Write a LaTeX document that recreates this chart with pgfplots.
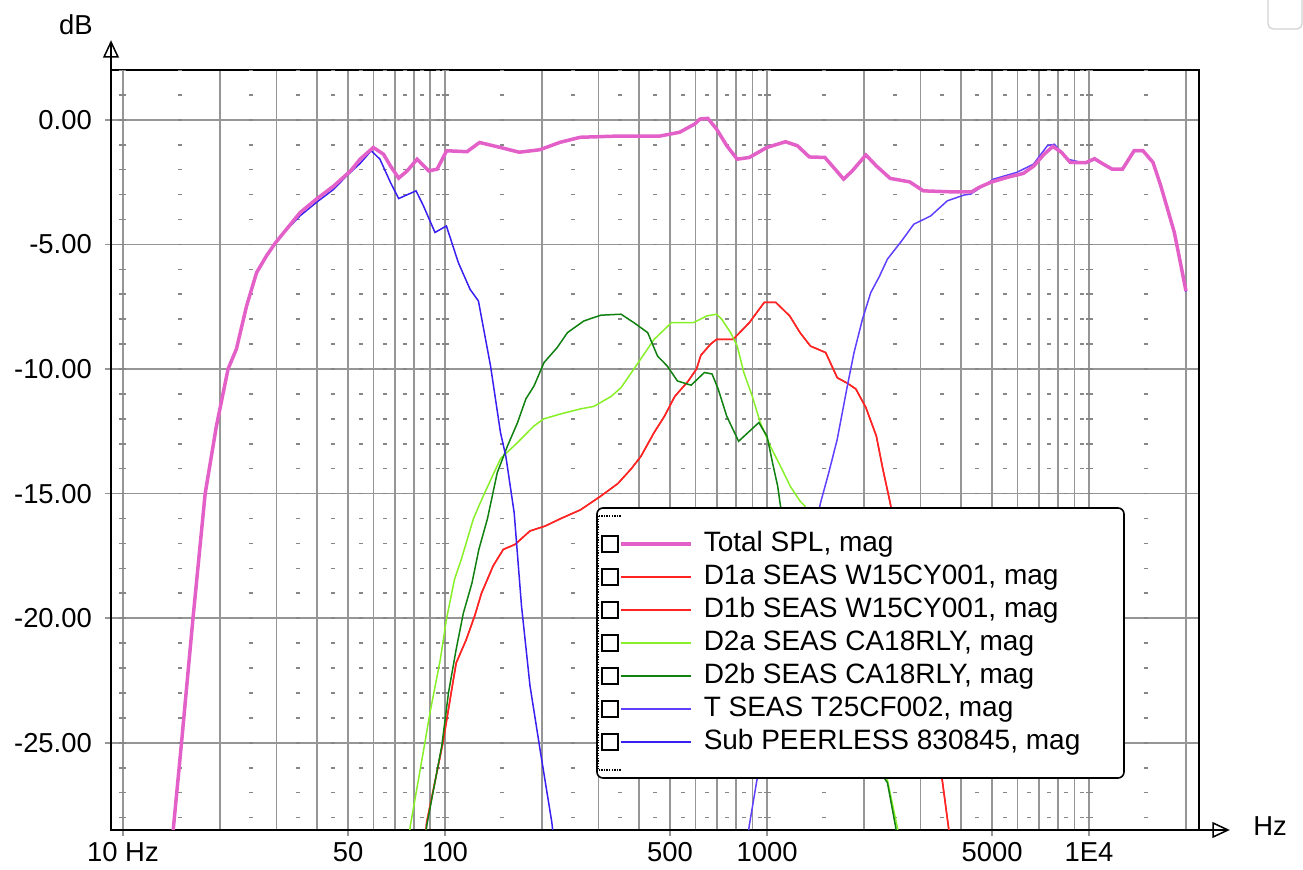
\documentclass[border=0pt]{standalone}
\usepackage{fontspec}
\setmainfont{Liberation Sans}
\usepackage{pgfplots}
\pgfplotsset{compat=1.18}

\definecolor{totc}{RGB}{226,96,200}
\definecolor{d1c}{RGB}{255,36,36}
\definecolor{d2ac}{RGB}{136,240,40}
\definecolor{d2bc}{RGB}{16,128,16}
\definecolor{tc}{RGB}{96,64,255}
\definecolor{subc}{RGB}{56,32,240}
\definecolor{gridc}{RGB}{150,150,150}
\definecolor{dotc}{RGB}{135,135,135}

\newcommand{\lblfont}{\fontsize{27.5}{33}\selectfont}
\newcommand{\legfont}{\fontsize{28.1}{33}\selectfont}

\begin{document}
\begin{tikzpicture}
\begin{axis}[
  at={(111bp,40bp)}, anchor=south west,
  scale only axis, width=1088bp, height=760bp,
  xmode=log, xmin=9.18, xmax=21950, ymin=-28.5, ymax=2,
  axis line style={black, line width=2bp},
  xtick={10,50,100,500,1000,5000,10000},
  xticklabels={10 Hz,50,100,500,1000,5000,1E4},
  minor xtick={20,30,40,60,70,80,90,200,300,400,600,700,800,900,2000,3000,4000,6000,7000,8000,9000,20000},
  ytick={-25,-20,-15,-10,-5,0},
  yticklabels={-25.00,-20.00,-15.00,-10.00,-5.00,0.00},
  grid=both,
  major grid style={gridc, line width=1.6bp},
  minor grid style={gridc, line width=1.6bp},
  tick align=outside, xtick pos=left, ytick pos=left,
  major tick length=6bp, minor tick length=0pt,
  tick style={gridc, line width=1.6bp},
  ticklabel style={font=\lblfont},
  xticklabel style={anchor=north, inner sep=0pt, yshift=-6bp},
  yticklabel style={anchor=east, inner sep=0pt, xshift=-13bp},
  legend image code/.code={
    \draw[black, line width=1.6bp, solid, sharp corners, fill=white] (0bp,-8bp) rectangle (16bp,8bp);
    \draw (18.5bp,0bp) -- (89bp,0bp);
  },
  legend cell align=left,
  legend style={at={(0.45037,0.39803)}, anchor=north west, draw=none, fill=none,
    inner sep=0pt, row sep=0pt, column sep=11bp, font=\legfont,
    nodes={inner xsep=0pt, inner ysep=3.5bp, text height=20bp, text depth=6bp}},
]
% dotted minor marks (1 dB steps at the half-way frequencies)
\pgfplotsinvokeforeach{15,25,35,45,55,65,75,85,95,150,250,350,450,550,650,750,850,950,1500,2500,3500,4500,5500,6500,7500,8500,9500,15000}{
  \draw[dotc, line width=4bp, dash pattern=on 1.6bp off 23.318bp, dash phase=13.259bp] (axis cs:#1,-28.5) -- (axis cs:#1,2);
}
\pgfplotsinvokeforeach{10,100,1000,10000}{
  \draw[dotc, line width=7bp, dash pattern=on 1.6bp off 23.318bp, dash phase=13.259bp] (axis cs:#1,-28.5) -- (axis cs:#1,2);
}

\addlegendimage{totc, line width=3.5bp}
\addlegendentry{Total SPL, mag}

% D1a SEAS W15CY001
\addplot[d1c, line width=1.5bp] coordinates {
(86,-29.5)(87.7,-28.2)(98.5,-25.0)(104.5,-23.0)(108.3,-21.8)(116.4,-20.86)(123.7,-19.9)
(129.8,-19.0)(141.1,-17.9)(151.7,-17.24)(165,-17.04)(183.6,-16.5)(204.8,-16.3)(229,-16.0)
(263.6,-15.65)(304.6,-15.1)(344,-14.6)(379,-14.0)(406,-13.5)(446,-12.55)(480,-11.9)
(517,-11.1)(568,-10.5)(604,-10.0)(623,-9.45)(668,-9.0)(697,-8.81)(785,-8.81)(881,-8.14)
(980,-7.33)(1065,-7.33)(1176,-7.87)(1266,-8.54)(1364,-9.08)(1521,-9.34)(1652,-10.35)
(1776,-10.57)(1887,-10.8)(2028,-11.55)(2185,-12.69)(2290,-14.03)(2412,-15.37)(2700,-19)
(3000,-22)(3250,-24.5)(3500,-26.5)(3670,-28.5)(3750,-29.5)
};
\addlegendentry{D1a SEAS W15CY001, mag}
% D1b SEAS W15CY001
\addplot[d1c, line width=1.5bp] coordinates {
(86,-29.5)(87.7,-28.2)(98.5,-25.0)(104.5,-23.0)(108.3,-21.8)(116.4,-20.86)(123.7,-19.9)
(129.8,-19.0)(141.1,-17.9)(151.7,-17.24)(165,-17.04)(183.6,-16.5)(204.8,-16.3)(229,-16.0)
(263.6,-15.65)(304.6,-15.1)(344,-14.6)(379,-14.0)(406,-13.5)(446,-12.55)(480,-11.9)
(517,-11.1)(568,-10.5)(604,-10.0)(623,-9.45)(668,-9.0)(697,-8.81)(785,-8.81)(881,-8.14)
(980,-7.33)(1065,-7.33)(1176,-7.87)(1266,-8.54)(1364,-9.08)(1521,-9.34)(1652,-10.35)
(1776,-10.57)(1887,-10.8)(2028,-11.55)(2185,-12.69)(2290,-14.03)(2412,-15.37)(2700,-19)
(3000,-22)(3250,-24.5)(3500,-26.5)(3670,-28.5)(3750,-29.5)
};
\addlegendentry{D1b SEAS W15CY001, mag}
% D2a SEAS CA18RLY
\addplot[d2ac, line width=1.5bp] coordinates {
(76,-29.5)(78,-28.35)(86.6,-25.0)(89.8,-23.8)(96.7,-21.66)(101,-20.05)(107,-18.45)
(112.6,-17.6)(122.6,-16.0)(131.4,-15.1)(148.7,-13.6)(168,-12.95)(188.7,-12.29)(202.7,-12.0)
(229,-11.8)(263.6,-11.6)(290,-11.5)(328,-11.1)(352,-10.75)(386,-10.0)(446,-8.81)(505,-8.14)
(591,-8.14)(650,-7.87)(697,-7.8)(723,-8.0)(771,-8.54)(808,-9.08)(847,-10.14)(899,-11.08)
(953,-12.15)(1024,-13.1)(1101,-13.9)(1180,-14.7)(1266,-15.3)(1311,-15.5)(1500,-17.5)
(1800,-21)(2100,-24.2)(2365,-26.5)(2540,-28.4)(2600,-29.5)
};
\addlegendentry{D2a SEAS CA18RLY, mag}
% D2b SEAS CA18RLY
\addplot[d2bc, line width=1.5bp] coordinates {
(86,-29.5)(87.7,-28.35)(97.8,-25.1)(102.5,-23.0)(108.3,-21.25)(114,-19.8)(121.2,-18.6)
(127.4,-17.24)(135.5,-16.0)(145.3,-14.16)(156.2,-13.1)(168,-12.15)(178.3,-11.2)(189,-10.68)
(203,-9.74)(223,-9.14)(240,-8.54)(270,-8.07)(305,-7.84)(352,-7.8)(386,-8.14)(426,-8.54)
(457,-9.48)(490,-9.88)(527,-10.48)(581,-10.65)(639,-10.14)(675,-10.2)(705,-10.8)(750,-11.9)
(816,-12.9)(873,-12.55)(943,-12.15)(1000,-12.7)(1040,-13.76)(1079,-14.7)(1101,-15.5)
(1300,-19)(1600,-22.5)(2000,-25.2)(2365,-26.6)(2510,-28.4)(2580,-29.5)
};
\addlegendentry{D2b SEAS CA18RLY, mag}
% T SEAS T25CF002
\addplot[tc, line width=1.5bp] coordinates {
(860,-29.5)(880,-28.35)(930,-26.5)(1100,-22.5)(1300,-18.5)(1466,-15.37)(1555,-14.16)
(1652,-12.82)(1776,-10.68)(1863,-9.34)(1979,-8.0)(2100,-6.93)(2230,-6.3)(2365,-5.59)
(2618,-4.86)(2855,-4.19)(3220,-3.86)(3630,-3.25)(4085,-3.02)(4290,-2.98)(5050,-2.38)
(5960,-2.11)(6720,-1.78)(7420,-1.04)(7800,-0.98)(8580,-1.58)(9770,-1.75)(10400,-1.6)
(11800,-2.0)(12700,-2.0)(13800,-1.27)(14700,-1.27)(15800,-1.74)(16700,-2.68)(18400,-4.55)
(19300,-5.9)(20000,-6.9)
};
\addlegendentry{T SEAS T25CF002, mag}
% Sub PEERLESS 830845
\addplot[subc, line width=1.5bp] coordinates {
(14.2,-29)(15.2,-25)(16.5,-20)(18.0,-15)(19.5,-12.3)(21.2,-10)(22.5,-9.2)(24.2,-7.47)
(26.0,-6.13)(27.9,-5.46)(29.7,-4.95)(32.2,-4.42)(35.5,-3.85)(40,-3.3)(45,-2.8)(49.5,-2.25)
(54.5,-1.75)(59,-1.24)(62.8,-1.58)(67.7,-2.51)(71.8,-3.16)(75,-3.05)(81.3,-2.85)(85.7,-3.45)
(93.1,-4.52)(101,-4.26)(110,-5.73)(119.6,-6.8)(127,-7.27)(138.5,-9.88)(148.7,-12.55)
(154.5,-13.5)(164,-15.77)(172.8,-19.5)(183.6,-22.7)(197.5,-25.3)(214.7,-28.2)(220,-29.5)
};
\addlegendentry{Sub PEERLESS 830845, mag}
% Total SPL (drawn last, on top)
\addplot[totc, line width=3.5bp, forget plot] coordinates {
(14.2,-29)(15.2,-25)(16.5,-20)(18.0,-15)(19.5,-12.3)(21.2,-10)(22.5,-9.2)(24.2,-7.47)
(26.0,-6.13)(27.9,-5.46)(29.7,-4.95)(32.2,-4.39)(35.5,-3.72)(39.9,-3.18)(45.0,-2.67)
(50.9,-2.05)(54.5,-1.58)(59.9,-1.11)(64.4,-1.38)(67.7,-1.85)(71.8,-2.34)(76.3,-2.05)
(81.9,-1.58)(89.0,-2.05)(94.5,-1.98)(101.2,-1.24)(117,-1.28)(128,-0.91)(148.7,-1.11)
(170,-1.3)(197,-1.2)(228,-0.9)(263,-0.7)(349,-0.65)(465,-0.65)(535,-0.5)(596,-0.17)
(619,0.03)(655,0.06)(697,-0.37)(750,-1.04)(808,-1.58)(881,-1.51)(998,-1.11)(1141,-0.88)
(1243,-1.04)(1353,-1.49)(1512,-1.51)(1627,-1.98)(1729,-2.38)(1839,-2.05)(2028,-1.41)
(2185,-1.85)(2412,-2.35)(2772,-2.49)(3058,-2.85)(3730,-2.89)(4320,-2.89)(4540,-2.72)
(4965,-2.5)(5600,-2.3)(6250,-2.15)(6740,-1.85)(7250,-1.38)(7720,-1.07)(8220,-1.31)
(8740,-1.71)(9770,-1.72)(10400,-1.56)(11080,-1.78)(11800,-1.98)(12700,-1.98)(13800,-1.24)
(14700,-1.24)(15800,-1.71)(16700,-2.65)(18400,-4.52)(19300,-5.86)(20000,-6.87)
};
% legend box
\draw[black, line width=1.6bp, fill=white, rounded corners=6bp]
  (rel axis cs:0.44669,0.42368) rectangle (rel axis cs:0.93107,0.06842);
\end{axis}

% focus marks of the legend box
\draw[black, line width=1.3bp, dash pattern=on 1.3bp off 1.3bp] (598.6bp,354bp) -- (621bp,354bp);
\draw[black, line width=1.3bp, dash pattern=on 1.3bp off 1.3bp] (598.6bp,354bp) -- (598.6bp,100bp);
\draw[black, line width=1.3bp, dash pattern=on 1.3bp off 1.3bp] (598.6bp,100bp) -- (621bp,100bp);

% axis arrows and units
\draw[black, line width=2bp] (111bp,800bp) -- (111bp,813bp);
\draw[black, line width=1.5bp, fill=white] (104bp,813bp) -- (111bp,828bp) -- (118bp,813bp) -- cycle;
\draw[black, line width=1.5bp] (111bp,813bp) -- (111bp,828bp);
\draw[black, line width=2bp] (1199bp,40bp) -- (1213bp,40bp);
\draw[black, line width=1.5bp, fill=white] (1213bp,47bp) -- (1228bp,40bp) -- (1213bp,33bp) -- cycle;
\draw[black, line width=1.5bp] (1213bp,40bp) -- (1228bp,40bp);
\node[font=\lblfont] at (76bp,845bp) {dB};
\node[font=\lblfont] at (1270bp,44bp) {Hz};

% window corner at top right
\draw[gray!35, line width=1.3bp, rounded corners=5bp] (1268bp,872bp) -- (1268bp,841bp) -- (1302bp,841bp) -- (1302bp,872bp);

\pgfresetboundingbox
\useasboundingbox (0,0) rectangle (1303bp,870bp);
\end{tikzpicture}
\end{document}
